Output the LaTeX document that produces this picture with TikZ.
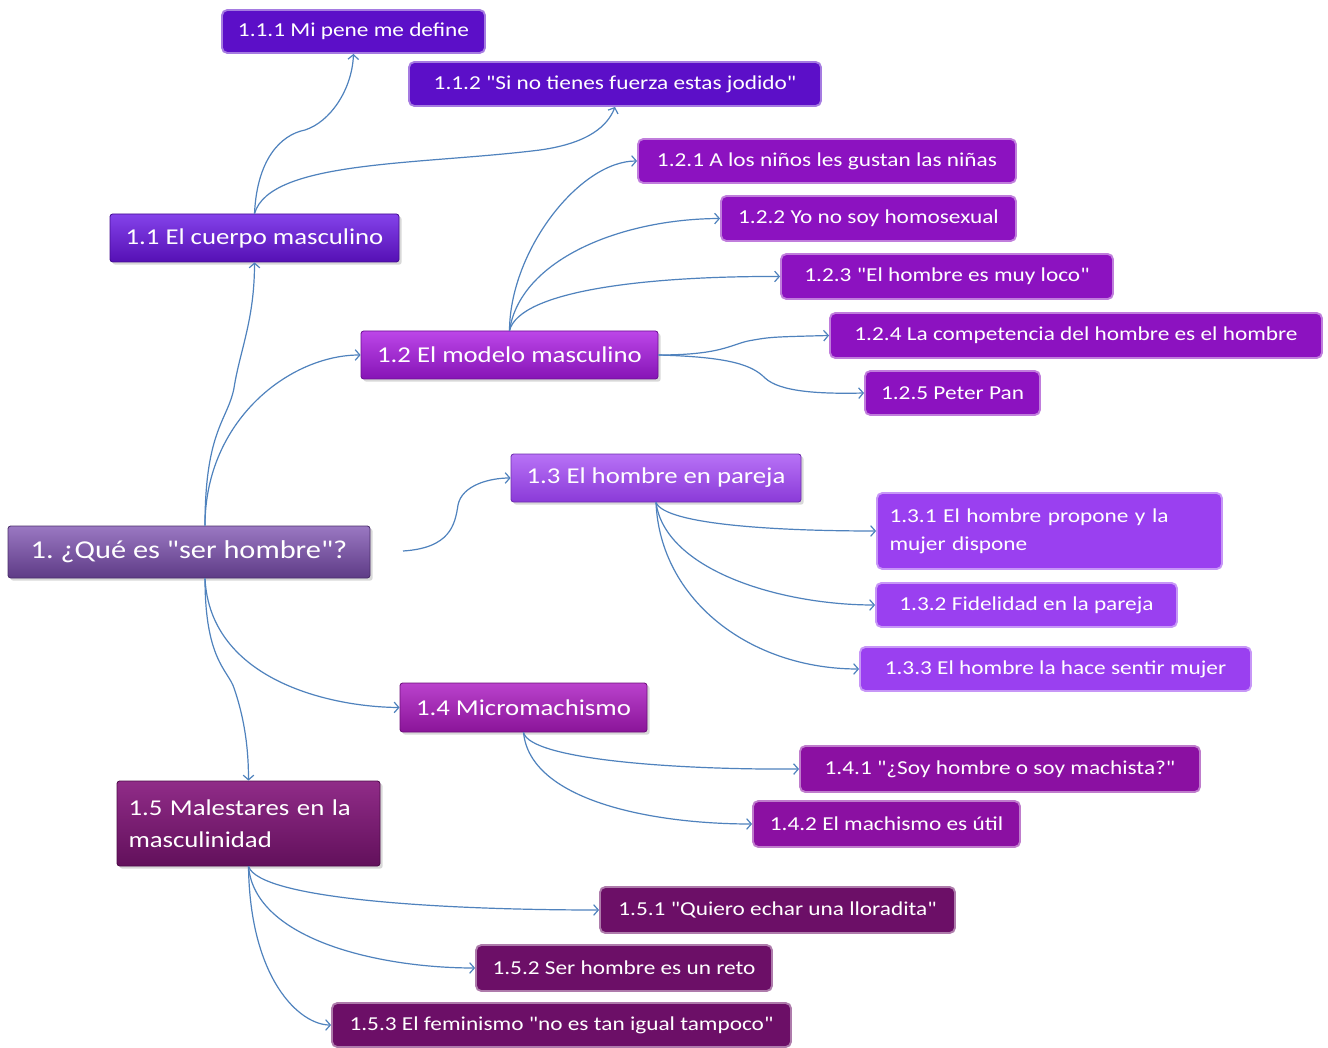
\documentclass[tikz,border=0pt]{standalone}
\usepackage{fontspec}
\setmainfont{Carlito}[FakeStretch=1.18, Ligatures=TeXOff]
\frenchspacing
\usetikzlibrary{arrows.meta,shadows}

\definecolor{linkblue}{HTML}{4F82BD}
\definecolor{bodyviolet}{HTML}{5C0FC8}
\definecolor{modelpurple}{HTML}{8C12C0}
\definecolor{couplelilac}{HTML}{9A40F0}
\definecolor{micromag}{HTML}{8B10A2}
\definecolor{malplum}{HTML}{6C0F67}
% topic gradients
\definecolor{roottop}{HTML}{9A78C2}\definecolor{rootbot}{HTML}{5E3B86}
\definecolor{bodytop}{HTML}{8442EA}\definecolor{bodybot}{HTML}{5510B4}
\definecolor{modeltop}{HTML}{BC46E8}\definecolor{modelbot}{HTML}{8614B6}
\definecolor{coupletop}{HTML}{B872F6}\definecolor{couplebot}{HTML}{8A3AD8}
\definecolor{microtop}{HTML}{BA42CC}\definecolor{microbot}{HTML}{8A1499}
\definecolor{maltop}{HTML}{902C88}\definecolor{malbot}{HTML}{62105B}

\tikzset{
    leaf/.style={fill=#1, draw=#1!55!white, line width=1.4pt, rounded corners=4pt,
        text=white, font=\fontsize{14.8}{21}\selectfont, inner xsep=8pt},
    topic/.style 2 args={top color=#1, bottom color=#2, draw=#2!80!black, line width=0.6pt,
        rounded corners=2pt, text=white, font=\fontsize{17}{24}\selectfont, inner xsep=8pt,
        drop shadow={opacity=0.3, shadow xshift=2pt, shadow yshift=-2pt}},
    link/.style={linkblue, line width=0.9pt, -{Straight Barb[length=3.5pt,width=8pt]}}
}

\begin{document}
\begin{tikzpicture}[x=0.75pt, y=-0.75pt]
    \fill[white] (0,0) rectangle (1328,1048);
    \useasboundingbox (0,0) rectangle (1328,1048);

    % ROOT
    \node[topic={roottop}{rootbot}, minimum width=271.5pt, minimum height=39pt,
        font=\fontsize{19.3}{24}\selectfont] (main) at (189,552) {1. ¿Qué es "ser hombre"?};
    \coordinate (mright) at (403,551);

    % 1.1 CUERPO
    \node[topic={bodytop}{bodybot}, minimum width=216.75pt, minimum height=36pt] (n11) at (254.5,238) {1.1 El cuerpo masculino};
    \node[leaf=bodyviolet, minimum width=197.25pt, minimum height=32.25pt] (n111) at (353.5,31.5) {1.1.1 Mi pene me define};
    \node[leaf=bodyviolet, minimum width=309pt, minimum height=33pt] (n112) at (615,84) {1.1.2 "Si no tienes fuerza estas jodido"};

    % 1.2 MODELO
    \node[topic={modeltop}{modelbot}, minimum width=222.75pt, minimum height=36pt] (n12) at (509.5,355) {1.2 El modelo masculino};
    \node[leaf=modelpurple, minimum width=283.5pt, minimum height=33pt] (n121) at (827,161) {1.2.1 A los niños les gustan las niñas};
    \node[leaf=modelpurple, minimum width=221.25pt, minimum height=33.75pt] (n122) at (868.5,218.5) {1.2.2 Yo no soy homosexual};
    \node[leaf=modelpurple, minimum width=249pt, minimum height=33.75pt] (n123) at (947,276.5) {1.2.3 "El hombre es muy loco"};
    \node[leaf=modelpurple, minimum width=369pt, minimum height=33.75pt] (n124) at (1076,335.5) {1.2.4 La competencia del hombre es el hombre};
    \node[leaf=modelpurple, minimum width=131.25pt, minimum height=33pt] (n125) at (952.5,393) {1.2.5 Peter Pan};

    % 1.3 PAREJA
    \node[topic={coupletop}{couplebot}, minimum width=217.5pt, minimum height=36pt] (n13) at (656,478) {1.3 El hombre en pareja};
    \node[leaf=couplelilac, minimum width=258.75pt, minimum height=57pt, align=left,
        text width=240pt] (n131) at (1049.5,531) {1.3.1 El hombre propone y la\\ mujer dispone};
    \node[leaf=couplelilac, minimum width=225.75pt, minimum height=33pt] (n132) at (1026.5,605) {1.3.2 Fidelidad en la pareja};
    \node[leaf=couplelilac, minimum width=293.25pt, minimum height=33pt] (n133) at (1055.5,669) {1.3.3 El hombre la hace sentir mujer};

    % 1.4 MICROMACHISMO
    \node[topic={microtop}{microbot}, minimum width=185.25pt, minimum height=36.75pt] (n14) at (523.5,707.5) {1.4 Micromachismo};
    \node[leaf=micromag, minimum width=300pt, minimum height=34.5pt] (n141) at (1000,769) {1.4.1 "¿Soy hombre o soy machista?"};
    \node[leaf=micromag, minimum width=200.25pt, minimum height=34.5pt] (n142) at (886.5,824) {1.4.2 El machismo es útil};

    % 1.5 MALESTARES
    \node[topic={maltop}{malbot}, minimum width=197.25pt, minimum height=63.75pt, align=left,
        text width=180pt] (n15) at (248.5,823.5) {1.5 Malestares en la\\ masculinidad};
    \node[leaf=malplum, minimum width=266.25pt, minimum height=34.5pt] (n151) at (777.5,910) {1.5.1 "Quiero echar una lloradita"};
    \node[leaf=malplum, minimum width=222pt, minimum height=34.5pt] (n152) at (624,968) {1.5.2 Ser hombre es un reto};
    \node[leaf=malplum, minimum width=344.25pt, minimum height=33pt] (n153) at (561.5,1025) {1.5.3 El feminismo "no es tan igual tampoco"};

    % LINKS FROM ROOT
    \draw[link] ([xshift=12pt]main.north) .. controls (205,430) and (228,420) .. (234,388)
        .. controls (240,350) and (254.5,320) .. (n11.south);
    \draw[link] ([xshift=12pt]main.north) .. controls (205,420) and (290,355) .. (n12.west);
    \draw[link] (mright) .. controls (450,548) and (455,525) .. (458,505)
        .. controls (462,485) and (490,478) .. (n13.west);
    \draw[link] ([xshift=12pt]main.south) .. controls (210,680) and (330,707) .. (n14.west);
    \draw[link] ([xshift=12pt]main.south) .. controls (205,660) and (228,670) .. (234,688)
        .. controls (245,720) and (248.5,750) .. (n15.north);

    % LINKS FROM 1.1
    \draw[link] (n11.north) .. controls (257,160) and (280,135) .. (305,130)
        .. controls (330,122) and (352,90) .. (n111.south);
    \draw[link] (n11.north) .. controls (270,160) and (420,165) .. (540,150)
        .. controls (590,143) and (608,125) .. (n112.south);

    % LINKS FROM 1.2
    \draw[link] (n12.north) .. controls (510,250) and (580,161) .. (n121.west);
    \draw[link] (n12.north) .. controls (520,260) and (620,219) .. (n122.west);
    \draw[link] (n12.north) .. controls (520,290) and (650,276) .. (n123.west);
    \draw[link] (n12.east) .. controls (720,355) and (730,345) .. (748,341)
        .. controls (770,337) .. (n124.west);
    \draw[link] (n12.east) .. controls (730,357) and (752,365) .. (765,378)
        .. controls (780,392) and (820,394) .. (n125.west);

    % LINKS FROM 1.3
    \draw[link] (n13.south) .. controls (665,525) and (780,531) .. (n131.west);
    \draw[link] (n13.south) .. controls (665,570) and (780,605) .. (n132.west);
    \draw[link] (n13.south) .. controls (660,600) and (750,669) .. (n133.west);

    % LINKS FROM 1.4
    \draw[link] (n14.south) .. controls (530,760) and (680,770) .. (n141.west);
    \draw[link] (n14.south) .. controls (530,800) and (650,824) .. (n142.west);

    % LINKS FROM 1.5
    \draw[link] (n15.south) .. controls (260,900) and (450,910) .. (n151.west);
    \draw[link] (n15.south) .. controls (255,940) and (380,968) .. (n152.west);
    \draw[link] (n15.south) .. controls (250,980) and (300,1025) .. (n153.west);
\end{tikzpicture}
\end{document}
